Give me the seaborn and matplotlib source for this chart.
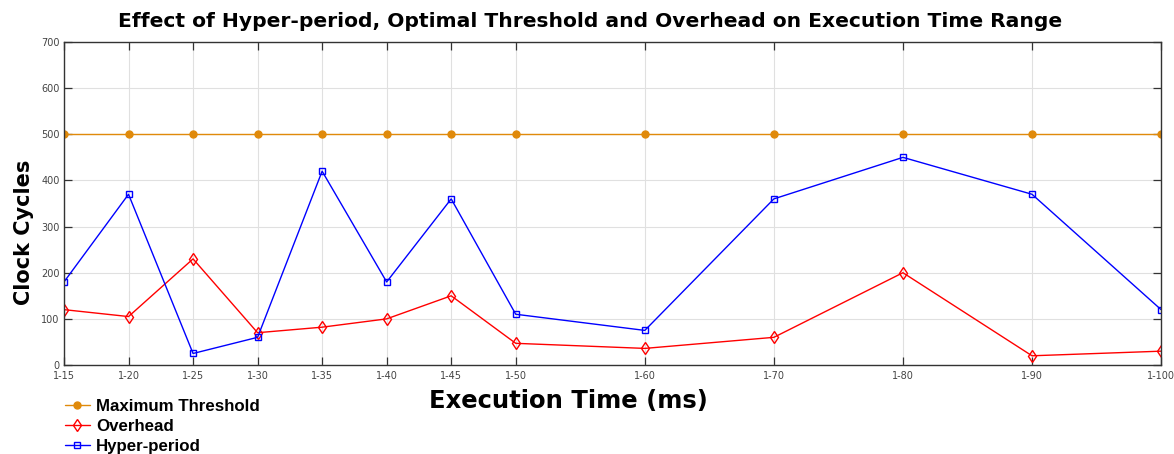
import matplotlib
matplotlib.use("Agg")
import matplotlib.pyplot as plt
import seaborn as sns
import pandas as pd

ranges = ["1-15", "1-20", "1-25", "1-30", "1-35", "1-40", "1-45", "1-50",
          "1-60", "1-70", "1-80", "1-90", "1-100"]
upper_ms = [15, 20, 25, 30, 35, 40, 45, 50, 60, 70, 80, 90, 100]
max_threshold = [500] * 13
overhead = [120, 105, 230, 70, 82, 100, 150, 47, 36, 60, 200, 20, 30]
hyper_period = [180, 370, 25, 60, 420, 180, 360, 110, 75, 360, 450, 370, 120]

sns.set_theme(style="whitegrid")
plt.rcParams['font.family'] = ['DejaVu Sans']

fig = plt.figure(figsize=(11.74, 4.54), dpi=100)
ax = fig.add_axes([0.0545, 0.196, 0.9345, 0.7115])

series = [
    ("Maximum Threshold", max_threshold, "#E08A0B", "o", 5, "#E08A0B"),
    ("Overhead", overhead, "#FF0000", "d", 6, "none"),
    ("Hyper-period", hyper_period, "#0000FF", "s", 4.5, "none"),
]
handles = []
for name, vals, col, mk, ms, fc in series:
    df = pd.DataFrame({"x": upper_ms, "y": vals})
    sns.lineplot(data=df, x="x", y="y", ax=ax, color=col, marker=mk,
                 markersize=ms, markerfacecolor=fc, markeredgecolor=col,
                 markeredgewidth=1.0, linewidth=1.0, label=name, legend=False)
    handles.append(ax.lines[-1])

ax.set_xlim(15, 100)
ax.set_ylim(0, 700)
ax.set_xticks(upper_ms)
ax.set_xticklabels(ranges)
ax.set_yticks(range(0, 701, 100))
ax.tick_params(axis="both", labelsize=7, labelcolor="#444444", direction="in",
               length=6, width=0.9, top=True, right=True, left=True, bottom=True,
               color="#333333")
ax.tick_params(axis="x", pad=4)
ax.tick_params(axis="y", pad=3)
for s in ax.spines.values():
    s.set_color("#333333")
    s.set_linewidth(1.0)
ax.grid(True, color="#E0E0E0", linewidth=0.8)

ax.set_title("Effect of Hyper-period, Optimal Threshold and Overhead on Execution Time Range",
             fontsize=14.6, fontweight="bold", pad=11, color="black", x=0.4795)
ax.set_xlabel("Execution Time (ms)", fontsize=17.5, fontweight="bold", labelpad=10, color="black")
ax.xaxis.set_label_coords(0.46, -0.075)
ax.set_ylabel("Clock Cycles", fontsize=15, fontweight="bold", labelpad=10, color="black")
ax.yaxis.set_label_coords(-0.027, 0.41)

leg = fig.legend(handles=handles, labels=[s[0] for s in series],
                 loc="upper left", bbox_to_anchor=(0.055, 0.121), frameon=False,
                 prop={"family": "Liberation Sans", "weight": "bold", "size": 12.2},
                 handlelength=1.5, handletextpad=0.35, labelspacing=0.28,
                 borderaxespad=0, borderpad=0)
for t in leg.get_texts():
    t.set_color("black")

fig.savefig("out.png", dpi=100)
